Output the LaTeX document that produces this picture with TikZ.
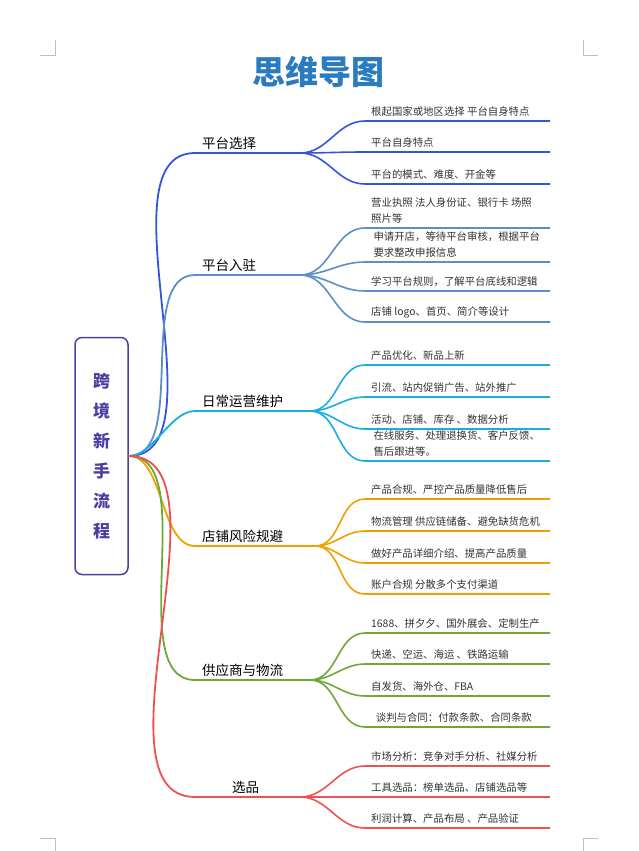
\documentclass[tikz,border=0pt]{standalone}
\usepackage{fontspec}
\setmainfont{Noto Sans CJK SC}
\usetikzlibrary{positioning}
\definecolor{rootc}{HTML}{4B3FA0}
\definecolor{titlec}{HTML}{2A7BC0}
\definecolor{cA}{HTML}{3355DD}
\definecolor{cB}{HTML}{5B8FC8}
\definecolor{cC}{HTML}{1AAEE0}
\definecolor{cD}{HTML}{F0A000}
\definecolor{cE}{HTML}{6FA83A}
\definecolor{cF}{HTML}{F05050}
\newcommand{\leafitem}[5]{%
  \coordinate (#1s) at (365,#3);
  \coordinate (#1e) at (550,#3);
  \node[leaf] (#1) at (370,#3-3) {#5};
  \draw[leafline,#4] (#2) to[out=0,in=180] (#1s) -- (#1e);
}
\newcommand{\branchitem}[6]{%
  \coordinate (#1s) at (195,#3);
  \coordinate (#1e) at (#4,#3);
  \node[branch] (#1) at (#5,#3-1) {#6};
  \draw[rootline,#2] (root.east) to[out=0,in=180,looseness=0.8] (#1s) -- (#1e);
}
\begin{document}
\begin{tikzpicture}[
    x=1pt, y=-1pt,
    rootbox/.style={
      draw=rootc, line width=1.5pt, rounded corners=7pt,
      minimum width=53pt, minimum height=237pt,
      align=center, text=rootc,
      font=\fontsize{17}{30}\selectfont\bfseries
    },
    branch/.style={anchor=south west, inner sep=2pt, font=\fontsize{13.5}{16}\selectfont},
    leaf/.style={anchor=south west, align=left, inner sep=1pt, text=black!80,
      font=\fontsize{10.4}{16.5}\selectfont},
    rootline/.style={line width=1.8pt},
    leafline/.style={line width=1.6pt},
    crop/.style={black!25, line width=0.6pt}
  ]
  \useasboundingbox (0,0) rectangle (638,851);

  % crop marks
  \draw[crop] (40,55) -- (55,55) -- (55,40);
  \draw[crop] (598,55) -- (583,55) -- (583,40);
  \draw[crop] (40,838) -- (55,838) -- (55,851);
  \draw[crop] (598,838) -- (583,838) -- (583,851);

  % title
  \node[text=titlec, font=\fontsize{33}{36}\selectfont\bfseries] (title) at (318,72) {思维导图};

  % root
  \node[rootbox] (root) at (101.5,456) {跨\\境\\新\\手\\流\\程};

  % branches
  \branchitem{bA}{cA}{153}{300}{200}{平台选择}
  \branchitem{bB}{cB}{275}{300}{200}{平台入驻}
  \branchitem{bC}{cC}{411}{310}{200}{日常运营维护}
  \branchitem{bD}{cD}{546}{315}{200}{店铺风险规避}
  \branchitem{bE}{cE}{680}{310}{200}{供应商与物流}
  \branchitem{bF}{cF}{797}{300}{230}{选品}

  % leaves
  \leafitem{lA1}{bAe}{121}{cA}{根起国家或地区选择\ 平台自身特点}
  \leafitem{lA2}{bAe}{152}{cA}{平台自身特点}
  \leafitem{lA3}{bAe}{184}{cA}{平台的模式、难度、开金等}

  \leafitem{lB1}{bBe}{228}{cB}{营业执照\ 法人身份证、银行卡\ 场照\\照片等}
  \leafitem{lB2}{bBe}{262}{cB}{\ 申请开店，等待平台审核，根据平台\\\ 要求整改申报信息}
  \leafitem{lB3}{bBe}{291}{cB}{学习平台规则，了解平台底线和逻辑}
  \leafitem{lB4}{bBe}{322}{cB}{店铺 logo、首页、简介等设计}

  \leafitem{lC1}{bCe}{365}{cC}{产品优化、新品上新}
  \leafitem{lC2}{bCe}{397}{cC}{引流、站内促销广告、站外推广}
  \leafitem{lC3}{bCe}{429}{cC}{活动、店铺、库存\ 、数据分析}
  \leafitem{lC4}{bCe}{461}{cC}{\ 在线服务、处理退换货、客户反馈、\\\ 售后跟进等。}

  \leafitem{lD1}{bDe}{499}{cD}{产品合规、严控产品质量降低售后}
  \leafitem{lD2}{bDe}{531}{cD}{物流管理\ 供应链储备、避免缺货危机}
  \leafitem{lD3}{bDe}{563}{cD}{做好产品详细介绍、提高产品质量}
  \leafitem{lD4}{bDe}{594}{cD}{账户合规\ 分散多个支付渠道}

  \leafitem{lE1}{bEe}{633}{cE}{1688、拼夕夕、国外展会、定制生产}
  \leafitem{lE2}{bEe}{664}{cE}{快递、空运、海运\ 、铁路运输}
  \leafitem{lE3}{bEe}{696}{cE}{自发货、海外仓、FBA}
  \leafitem{lE4}{bEe}{727}{cE}{\ \ 谈判与合同：付款条款、合同条款}

  \leafitem{lF1}{bFe}{766}{cF}{市场分析：竞争对手分析、社媒分析}
  \leafitem{lF2}{bFe}{797}{cF}{工具选品：榜单选品、店铺选品等}
  \leafitem{lF3}{bFe}{828}{cF}{利润计算、产品布局\ 、产品验证}
\end{tikzpicture}
\end{document}
